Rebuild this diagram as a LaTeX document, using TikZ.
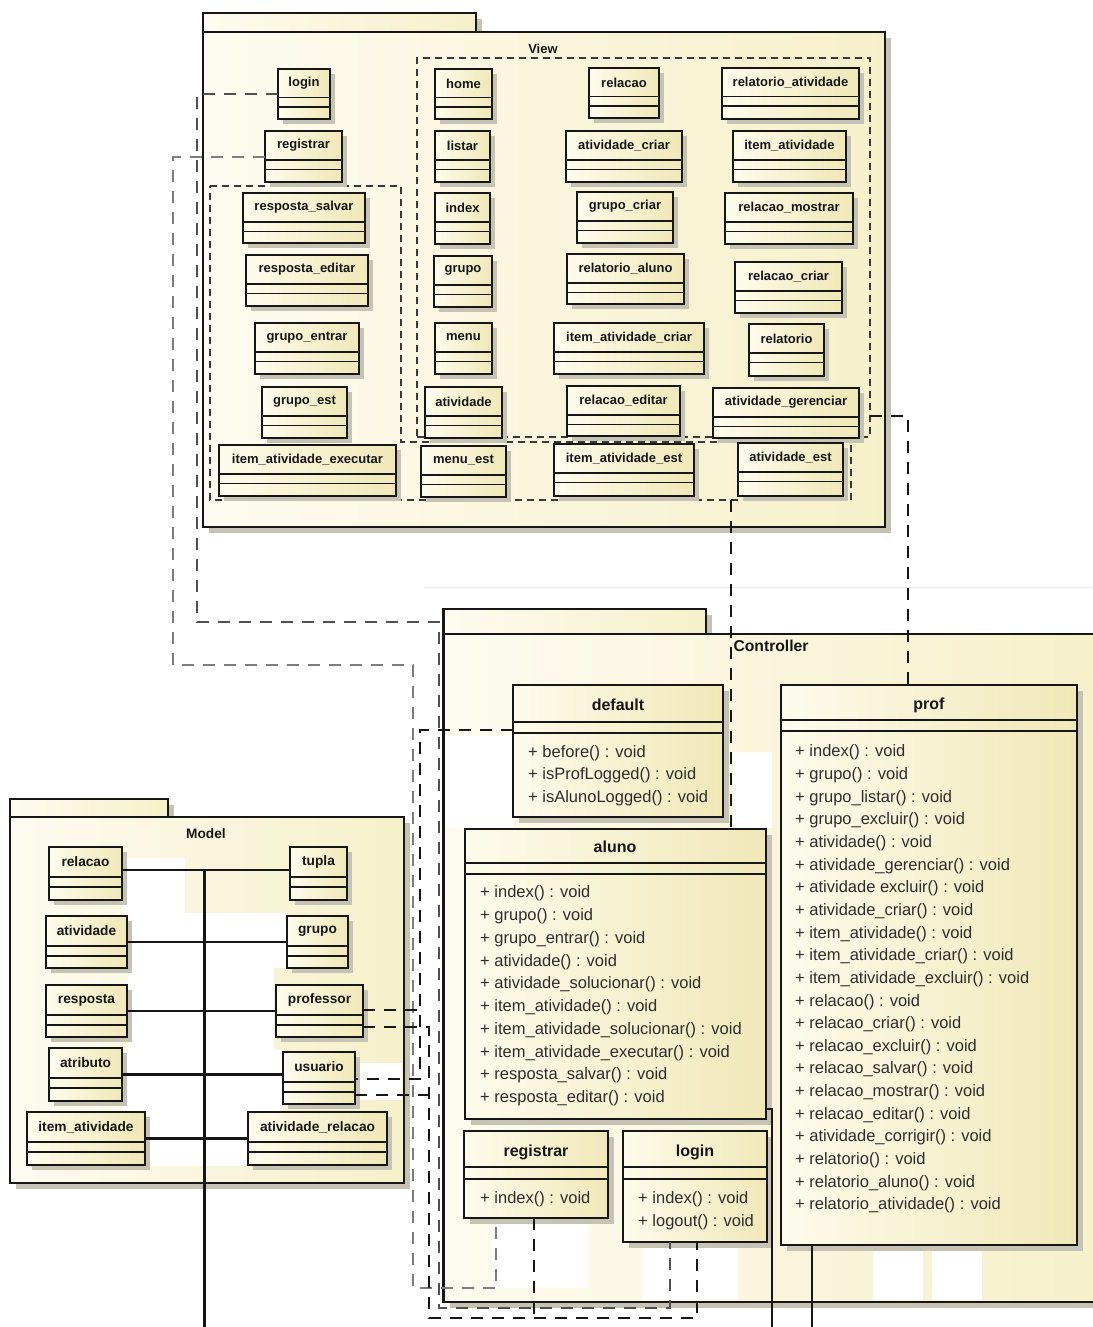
\documentclass[tikz,border=0pt]{standalone}
\usepackage{fontspec}
\setmainfont{Liberation Sans}
\usetikzlibrary{calc}
\definecolor{pkgL}{RGB}{253,251,240}
\definecolor{pkgR}{RGB}{246,240,202}
\definecolor{boxL}{RGB}{253,251,236}
\definecolor{boxR}{RGB}{240,232,184}
\definecolor{shad}{RGB}{198,194,180}
\definecolor{ink}{RGB}{22,22,22}
\definecolor{conngray}{RGB}{125,125,125}
\definecolor{conndgray}{RGB}{80,80,80}
\newcommand\umlcls[8]{%
  \fill[shad] ({#2+#8},{#3+#8}) rectangle ({#4+#8},{#5+#8});
  \node[boxsty, minimum width={#4-#2}, minimum height={#5-#3}] (#1) at ({(#2+#4)/2},{(#3+#5)/2}) {};
  \draw[sepline] ({#2},{#3+#6}) -- ({#4},{#3+#6}) ({#2},{#3+#6+#7}) -- ({#4},{#3+#6+#7});
}
\newcommand\vcls[6]{\umlcls{#1}{#2}{#3}{#4}{#5}{28.7}{9.6}{5}\node[vname] (#1-t) at ({(#2+#4)/2},{#3+14.5}) {#6};}
\newcommand\mcls[6]{\umlcls{#1}{#2}{#3}{#4}{#5}{30}{10}{5}\node[mname] (#1-t) at ({(#2+#4)/2},{#3+15}) {#6};}
\begin{document}
\begin{tikzpicture}[x=1pt,y=-1pt,
  boxsty/.style={draw=ink, line width=2.4pt, left color=boxL, right color=boxR, inner sep=0pt, outer sep=0pt},
  sepline/.style={draw=ink, line width=1.6pt},
  vname/.style={font=\fontsize{13}{15}\selectfont\bfseries, text=ink, inner sep=0pt},
  mname/.style={font=\fontsize{13.7}{16}\selectfont\bfseries, text=ink, inner sep=0pt},
  cname/.style={font=\fontsize{16}{19}\selectfont\bfseries, text=ink, inner sep=0pt},
  meth/.style={font=\fontsize{16.5}{19}\selectfont, text=ink!90, inner sep=0pt, anchor=west},
  pkg/.style={draw=ink, line width=2.4pt, left color=pkgL, right color=pkgR, inner sep=0pt, outer sep=0pt},
  grpdash/.style={draw=ink!85, line width=2pt, dash pattern=on 7pt off 5pt},
  conn/.style={draw=ink, line width=2.2pt, dash pattern=on 12pt off 9pt},
  conng/.style={draw=conngray, line width=2pt, dash pattern=on 12pt off 9pt},
  conndg/.style={draw=conndgray, line width=2pt, dash pattern=on 12pt off 9pt},
  solidc/.style={draw=ink, line width=2.2pt},
]
\fill[white] (0,0) rectangle (1092,1327);
\useasboundingbox (0,0) rectangle (1092,1327);

% ---------------- packages ----------------
% View
\fill[shad] (209,19) rectangle (482,32);
\fill[shad] (209,38) rectangle (891,533);
\node[pkg, minimum width=273, minimum height=19] (viewtab) at (339.5,22.5) {};
\node[pkg, minimum width=682, minimum height=495] (view) at (544,279.5) {};
\node[vname] (viewlbl) at (543,49) {View};
% Controller
\draw[gray!18, line width=1pt] (424,587) -- (1092,587);
\fill[shad] (449.5,615) rectangle (712,634);
\fill[shad] (449.5,640) rectangle (1106,1308);
\node[pkg, minimum width=262.5, minimum height=25] (ctrltab) at (574.75,621.5) {};
\node[pkg, minimum width=656.5, minimum height=668] (ctrl) at (771.75,968) {};
\node[font=\fontsize{15.7}{18}\selectfont\bfseries, text=ink, inner sep=0pt] (ctrllbl) at (771,646) {Controller};
% Model
\fill[shad] (16,805) rectangle (174,817);
\fill[shad] (16,823) rectangle (410,1189);
\node[pkg, minimum width=158, minimum height=18] (modeltab) at (89,808) {};
\node[pkg, minimum width=394, minimum height=366] (model) at (207,1000) {};
\node[mname] (modellbl) at (206,834) {Model};

% white patches of the screenshot
\fill[white] (123,858) rectangle (185,913);
\fill[white] (128,913) rectangle (287,968);
\fill[white] (128,968) rectangle (274,1050);
\fill[white] (123,1050) rectangle (283,1112);
\fill[white] (146,1112) rectangle (248,1166);
\fill[white] (356,1063) rectangle (402,1100);
\fill[white] (445,736) rectangle (513,828);
\fill[white] (733,752) rectangle (772,828);
\fill[white] (492,1220) rectangle (588,1288);
\fill[white] (642,1243) rectangle (738,1300);
\fill[white] (873,1247) rectangle (923,1300);
\fill[white] (932,1247) rectangle (982,1300);

% ---------------- View groups ----------------
\node[grpdash, minimum width=453, minimum height=379, inner sep=0pt] (grpA) at (643.5,247.5) {};
\draw[grpdash] (210,186) -- (401,186) -- (401,442) -- (851,442) -- (851,500) -- (210,500) -- cycle;
\coordinate (gAout) at (870,416);
\coordinate (gBout) at (731,500);

% ---------------- View classes ----------------
\vcls{v-login}{278}{69}{330}{119}{login}
\vcls{v-registrar}{265}{131}{342}{182}{registrar}
\vcls{v-resposta-salvar}{243}{193}{365}{243}{resposta\_salvar}
\vcls{v-resposta-editar}{246}{255}{368}{306}{resposta\_editar}
\vcls{v-grupo-entrar}{255}{323}{359}{374}{grupo\_entrar}
\vcls{v-grupo-est}{262}{387}{347}{438}{grupo\_est}
\vcls{v-iae}{219}{445}{396}{496}{item\_atividade\_executar}
\vcls{v-home}{435}{69}{492}{119}{home}
\vcls{v-listar}{435}{131}{490}{182}{listar}
\vcls{v-index}{435}{193}{490}{244}{index}
\vcls{v-grupo}{434}{256}{492}{307}{grupo}
\vcls{v-menu}{435}{323}{492}{374}{menu}
\vcls{v-atividade}{425}{387}{502}{438}{atividade}
\vcls{v-menu-est}{421}{446}{506}{497}{menu\_est}
\vcls{v-relacao}{589}{68}{659}{118}{relacao}
\vcls{v-atividade-criar}{566}{131}{682}{182}{atividade\_criar}
\vcls{v-grupo-criar}{577}{192}{673}{243}{grupo\_criar}
\vcls{v-relatorio-aluno}{567}{254}{684}{304}{relatorio\_aluno}
\vcls{v-iac}{554}{323}{704}{374}{item\_atividade\_criar}
\vcls{v-relacao-editar}{567}{386}{680}{436}{relacao\_editar}
\vcls{v-iaest}{554}{444}{694}{496}{item\_atividade\_est}
\vcls{v-relatorio-atividade}{722}{68}{859}{119}{relatorio\_atividade}
\vcls{v-item-atividade}{733}{131}{846}{182}{item\_atividade}
\vcls{v-relacao-mostrar}{725}{193}{853}{244}{relacao\_mostrar}
\vcls{v-relacao-criar}{735}{262}{842}{313}{relacao\_criar}
\vcls{v-relatorio}{749}{324}{824}{376}{relatorio}
\vcls{v-atividade-gerenciar}{713}{388}{859}{438}{atividade\_gerenciar}
\vcls{v-atividade-est}{738}{443}{843}{496}{atividade\_est}

% ---------------- Model classes ----------------
\mcls{m-relacao}{49}{847}{122}{900}{relacao}
\mcls{m-atividade}{46}{916}{127}{968}{atividade}
\mcls{m-resposta}{46}{985}{127}{1037}{resposta}
\mcls{m-atributo}{49}{1048}{122}{1101}{atributo}
\mcls{m-item}{27}{1112}{145}{1165}{item\_atividade}
\mcls{m-tupla}{290}{847}{347}{900}{tupla}
\mcls{m-grupo}{287}{916}{348}{968}{grupo}
\mcls{m-professor}{276}{985}{363}{1037}{professor}
\mcls{m-usuario}{283}{1052}{355}{1104}{usuario}
\mcls{m-ativrel}{248}{1112}{387}{1165}{atividade\_relacao}

\coordinate (mtop) at (204.5,870);
\coordinate (mbot) at (204.5,1327);
\draw[solidc] (mtop) -- (mbot);
\draw[solidc] (m-relacao.east |- mtop) -- (m-tupla.west |- mtop);
\draw[solidc] (m-atividade.east) -- (m-grupo.west |- m-atividade.east);
\draw[solidc] (m-resposta.east) -- (m-professor.west |- m-resposta.east);
\draw[solidc] (m-atributo.east) -- (m-usuario.west |- m-atributo.east);
\draw[solidc] (m-item.east) -- (m-ativrel.west |- m-item.east);

% ---------------- Controller classes ----------------
\umlcls{c-default}{513}{685}{723}{817}{37}{11}{6}
\node[cname] (c-default-t) at (618,705) {default};
\foreach \t [count=\i] in {before,isProfLogged,isAlunoLogged}
  \node[meth] (c-default-m\i) at (528,{753+(\i-1)*22.6}) {+ \t() : void};

\umlcls{c-aluno}{465}{829}{766}{1119}{34}{11}{6}
\node[cname] (c-aluno-t) at (615,847) {aluno};
\foreach \t [count=\i] in {index,grupo,grupo\_entrar,atividade,atividade\_solucionar,item\_atividade,item\_atividade\_solucionar,item\_atividade\_executar,resposta\_salvar,resposta\_editar}
  \node[meth] (c-aluno-m\i) at (480,{893.5+(\i-1)*22.75}) {+ \t() : void};

\umlcls{c-prof}{781}{685}{1077}{1245}{35}{11}{6}
\node[cname] (c-prof-t) at (929,705) {prof};
\foreach \t [count=\i] in {index,grupo,grupo\_listar,grupo\_excluir,atividade,atividade\_gerenciar,atividade excluir,atividade\_criar,item\_atividade,item\_atividade\_criar,item\_atividade\_excluir,relacao,relacao\_criar,relacao\_excluir,relacao\_salvar,relacao\_mostrar,relacao\_editar,atividade\_corrigir,relatorio,relatorio\_aluno,relatorio\_atividade}
  \node[meth] (c-prof-m\i) at (795,{752.6+(\i-1)*22.65}) {+ \t() : void};

\umlcls{c-registrar}{464}{1131}{608}{1218}{36}{12}{6}
\node[cname] (c-registrar-t) at (536,1152) {registrar};
\node[meth] (c-registrar-m1) at (480,1199) {+ index() : void};

\umlcls{c-login}{623}{1131}{767}{1242}{36}{12}{6}
\node[cname] (c-login-t) at (695,1152) {login};
\node[meth] (c-login-m1) at (638,1199) {+ index() : void};
\node[meth] (c-login-m2) at (638,1222) {+ logout() : void};

% ---------------- connectors ----------------
\coordinate (profIn) at (908,685);
\coordinate (alunoIn) at (731,829);
\draw[conn] (gAout) -| (profIn);
\draw[conn] (gBout) -- (alunoIn);

\coordinate (loginIn1) at (670,1242);
\coordinate (loginIn2) at (697,1242);
\coordinate (regIn1) at (496,1218);
\coordinate (regOut) at (534,1218);
\draw[conndg] (v-login.west) -- (197,94) -- (197,622) -- (439,622) -- (439,1308) -- (670,1308) -- (loginIn1);
\draw[conng] (v-registrar.west) -- (173,156.5) -- (173,665) -- (413,665) -- (413,1288) -- (496,1288) -- (regIn1);

\coordinate (defOut) at (513,730);
\coordinate (usuOut1) at (355,1079);
\coordinate (usuOut2) at (355,1095);
\coordinate (profOut1) at (363,1010);
\coordinate (profOut2) at (363,1027);
\coordinate (j1) at (420,1010);
\coordinate (j2) at (429,1095);
\coordinate (j3) at (534,1318);
\draw[conn] (defOut) -- (420,730) -- (420,1079) -- (usuOut1);
\draw[conn] (profOut1) -- (j1);
\draw[conn] (profOut2) -- (429,1027) -- (429,1318) -- (697,1318) -- (loginIn2);
\draw[conn] (usuOut2) -- (j2);
\draw[conn] (regOut) -- (j3);

\coordinate (alunoOut) at (766,1109);
\coordinate (bot1) at (772,1327);
\coordinate (profOut) at (812,1245);
\coordinate (bot2) at (812,1327);
\draw[solidc] (alunoOut) -| (bot1);
\draw[solidc] (profOut) -- (bot2);
\end{tikzpicture}
\end{document}
